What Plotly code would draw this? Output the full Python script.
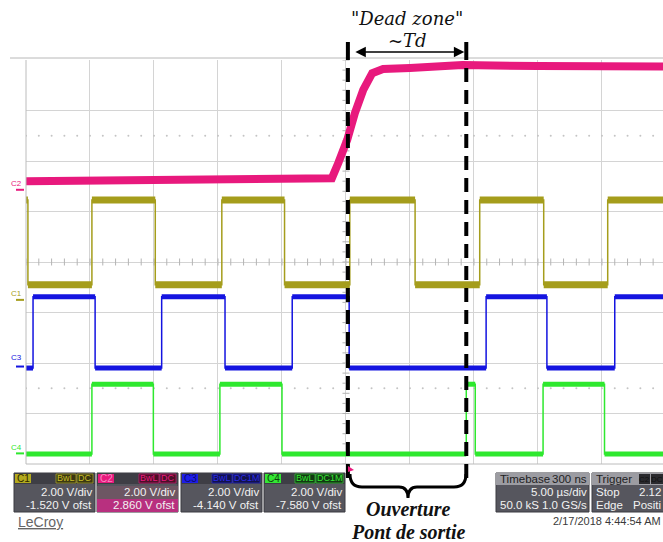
import plotly.graph_objects as go
import numpy as np

# ---------------- data (time in µs, amplitude in screen divisions) ----------------
time_range = [-25.0, 24.77]
amp_range = [-4.0, 4.0]

c1_edges = [-24.85, -19.85, -14.9, -9.7, -4.8, 0.3, 5.4, 10.45, 15.45, 20.45]
c1_start_high = True
c1_low, c1_high = -0.45, 1.23

c2_time = [-25.0, -10.0, -1.1, -0.6, 0.1, 0.7, 1.35, 2.05, 2.9, 5.0, 9.1, 15.0, 24.77]
c2_level = [1.60, 1.62, 1.66, 1.96, 2.42, 2.95, 3.41, 3.74, 3.82, 3.84, 3.90, 3.88, 3.87]

c3_edges = [-24.45, -19.6, -14.4, -9.45, -4.2, 0.25, 10.95, 15.7, 21.0]
c3_start_high = False
c3_low, c3_high = -2.10, -0.69

c4_edges = [-19.85, -15.05, -9.85, -5.0, 9.4, 10.1, 15.4, 20.2]
c4_start_high = False
c4_low, c4_high = -3.80, -2.42

dead_zone = [0.15, 9.4]

channel_names = ["C1", "C2", "C3", "C4"]
channel_colors = ["#a59d1c", "#e8197d", "#1414e0", "#2ee82e"]
channel_marker_levels = [-0.75, 1.43, -2.07, -3.79]
volts_per_div = ["2.00 V/div", "2.00 V/div", "2.00 V/div", "2.00 V/div"]
offsets = ["-1.520 V ofst", "2.860 V ofst", "-4.140 V ofst", "-7.580 V ofst"]
coupling = ["DC", "DC", "DC1M", "DC1M"]

# ---------------- geometry helpers ----------------
W, H = 663, 542
L, T, B = 26, 60, 464          # plot area (pixels)
R = W


def px_x(p):
    return (p - L) / (R - L)


def px_y(p):
    return (B - p) / (B - T)


def step_wave(edges, start_high, low, high):
    xs, ys = [], []
    state = start_high
    bounds = [time_range[0]] + list(edges) + [time_range[1]]
    px, py = [], []
    for i in range(len(bounds) - 1):
        lvl = high if state else low
        xs += [bounds[i], bounds[i + 1]]
        ys += [lvl, lvl]
        px += [bounds[i], bounds[i + 1], None]
        py += [lvl, lvl, None]
        state = not state
    return xs, ys, px, py


fig = go.Figure()

# decorative centre-axis ticks and dotted rows
tx = np.arange(-25, 25, 1.0)
fig.add_trace(go.Scatter(x=tx, y=np.zeros_like(tx), mode="markers",
                         marker=dict(symbol="line-ns-open", size=5, color="#b4b4b4", line=dict(width=1)),
                         hoverinfo="skip", showlegend=False))
ty = np.arange(-4, 4.01, 0.2)
fig.add_trace(go.Scatter(x=np.zeros_like(ty), y=ty, mode="markers",
                         marker=dict(symbol="line-ew-open", size=5, color="#b4b4b4", line=dict(width=1)),
                         hoverinfo="skip", showlegend=False))
for yy in (2.5, -2.5):
    fig.add_trace(go.Scatter(x=tx, y=np.full_like(tx, yy), mode="markers",
                             marker=dict(symbol="circle", size=2, color="#c4c4c4"),
                             hoverinfo="skip", showlegend=False))

# channel traces
waves = [
    step_wave(c1_edges, c1_start_high, c1_low, c1_high),
    None,
    step_wave(c3_edges, c3_start_high, c3_low, c3_high),
    step_wave(c4_edges, c4_start_high, c4_low, c4_high),
]
band = [7, 8, 5, 5]
for i, wv in enumerate(waves):
    col = channel_colors[i]
    if wv is None:
        fig.add_trace(go.Scatter(x=c2_time, y=c2_level, mode="lines", name="C2",
                                 line=dict(color=col, width=band[i]), showlegend=False))
        continue
    xs, ys, px, py = wv
    fig.add_trace(go.Scatter(x=xs, y=ys, mode="lines", name=channel_names[i],
                             line=dict(color=col, width=1.5), showlegend=False))
    fig.add_trace(go.Scatter(x=px, y=py, mode="lines", name=channel_names[i],
                             line=dict(color=col, width=band[i]), showlegend=False, hoverinfo="skip"))

shapes = []
ann = []

# grid border and top line
shapes.append(dict(type="line", xref="paper", yref="paper", x0=px_x(10), x1=1, y0=px_y(58), y1=px_y(58),
                   line=dict(color="#b8b8b8", width=1)))
shapes.append(dict(type="line", xref="paper", yref="paper", x0=0, x1=0, y0=0, y1=1,
                   line=dict(color="#bcbcbc", width=1)))
shapes.append(dict(type="line", xref="paper", yref="paper", x0=0, x1=1, y0=0, y1=0,
                   line=dict(color="#bcbcbc", width=1)))

# dead zone markers
for t in dead_zone:
    shapes.append(dict(type="line", xref="x", yref="paper", x0=t, x1=t, y0=px_y(478), y1=px_y(60),
                       line=dict(color="black", width=4, dash="14px,8px"), layer="above"))
    shapes.append(dict(type="line", xref="x", yref="paper", x0=t, x1=t, y0=px_y(60), y1=px_y(42),
                       line=dict(color="black", width=4), layer="above"))
arrow_len = (dead_zone[1] - dead_zone[0]) * (R - L) / (time_range[1] - time_range[0])
ann.append(dict(x=dead_zone[1], y=px_y(52), xref="x", yref="paper", ax=-(arrow_len - 4), ay=0,
                axref="pixel", ayref="pixel", text="", showarrow=True, arrowhead=2, arrowsize=1.3,
                arrowwidth=1.6, arrowcolor="black", arrowside="end+start", standoff=2, startstandoff=2))

xmid_px = L + ((dead_zone[0] + dead_zone[1]) / 2 - time_range[0]) * (R - L) / (time_range[1] - time_range[0])

ann.append(dict(x=px_x(xmid_px), y=px_y(19), xref="paper", yref="paper", text="\"Dead zone\"",
                showarrow=False, xanchor="center", yanchor="middle",
                font=dict(family="DejaVu Serif", size=18, color="#111", style="italic")))
ann.append(dict(x=px_x(xmid_px), y=px_y(41), xref="paper", yref="paper", text="~<i>Td</i>",
                showarrow=False, xanchor="center", yanchor="middle",
                font=dict(family="DejaVu Serif", size=18, color="#111", style="italic")))

# brace
x0b = 350
x1b = 466
xm = (x0b + x1b) / 2
pts = f"M {px_x(x0b)},{px_y(474)} Q {px_x(x0b)},{px_y(487)} {px_x(x0b+12)},{px_y(487)} " \
      f"L {px_x(xm-9)},{px_y(487)} Q {px_x(xm)},{px_y(487)} {px_x(xm)},{px_y(498)} " \
      f"Q {px_x(xm)},{px_y(487)} {px_x(xm+9)},{px_y(487)} L {px_x(x1b-12)},{px_y(487)} " \
      f"Q {px_x(x1b)},{px_y(487)} {px_x(x1b)},{px_y(474)}"
shapes.append(dict(type="path", xref="paper", yref="paper", path=pts,
                   line=dict(color="black", width=3), layer="above"))
ann.append(dict(x=px_x(xm), y=px_y(509), xref="paper", yref="paper", text="Ouverture",
                showarrow=False, xanchor="center", yanchor="middle",
                font=dict(family="Liberation Serif", size=20, color="#111", style="italic", weight="bold")))
ann.append(dict(x=px_x(xm), y=px_y(532), xref="paper", yref="paper", text="Pont de sortie",
                showarrow=False, xanchor="center", yanchor="middle",
                font=dict(family="Liberation Serif", size=20, color="#111", style="italic", weight="bold")))

# trigger marker
tri = f"M {px_x(348)},{px_y(466)} L {px_x(354)},{px_y(470)} L {px_x(348)},{px_y(472)} Z"
shapes.append(dict(type="path", xref="paper", yref="paper", path=tri, fillcolor="#e8197d",
                   line=dict(width=0), layer="above"))


def rect(x0, y0, x1, y1, fill, line=None, lw=0):
    shapes.append(dict(type="rect", xref="paper", yref="paper", x0=px_x(x0), x1=px_x(x1),
                       y0=px_y(y1), y1=px_y(y0), fillcolor=fill,
                       line=dict(width=lw, color=line or fill), layer="above"))


def text(x, y, s, color, size, xanchor="center", family="Liberation Sans", **kw):
    ann.append(dict(xref="paper", yref="paper", x=px_x(x), y=px_y(y), text=s, showarrow=False,
                    xanchor=xanchor, yanchor="middle", borderpad=0,
                    font=dict(family=family, size=size, color=color, **kw)))


# left channel labels
label_y = [293, 183, 357, 447]
for i in range(4):
    text(23, label_y[i], channel_names[i], channel_colors[i], 8, xanchor="right")
    yl = B - (channel_marker_levels[i] + 4) * (B - T) / 8
    shapes.append(dict(type="line", xref="paper", yref="paper", x0=px_x(16), x1=px_x(24),
                       y0=px_y(yl), y1=px_y(yl), line=dict(color=channel_colors[i], width=2)))

# channel info panels
panel_x = [(14, 95), (97, 178), (181, 262), (264, 345)]
badge_fill = ["#b3aa1e", "#e8197d", "#1e1ee8", "#33e633"]
badge_text = ["#2c2800", "#f58ac0", "#0a0a70", "#0c400c"]
box_fill = ["#3a3812", "#4a1028", "#12124a", "#123812"]
box_text = ["#c8bd26", "#e8197d", "#2a2ae8", "#35e635"]
for i, (x0, x1) in enumerate(panel_x):
    rect(x0, 473, x1, 512, "#56565e", "#3a3a40", 1)
    rect(x0, 473, x1, 484, "#3e3e45")
    if i == 1:
        rect(x0, 499, x1, 512, "#b8307f")
        rect(x0, 486, x1, 499, "#6d5663")
    rect(x0 + 1, 474, x0 + 17, 483, badge_fill[i])
    text(x0 + 2, 478.5, channel_names[i], badge_text[i], 10, xanchor="left")
    wide = coupling[i] == "DC1M"
    cw = 27 if wide else 16
    bx1 = x1 - 2
    rect(bx1 - cw, 474, bx1, 483, box_fill[i], box_text[i], 0.6)
    text(bx1 - cw / 2, 478.5, coupling[i], box_text[i], 9)
    rect(bx1 - cw - 21, 474, bx1 - cw - 1, 483, box_fill[i], box_text[i], 0.6)
    text(bx1 - cw - 11, 478.5, "BwL", box_text[i], 9)
    text(x1 - 2, 492, volts_per_div[i], "#f2f2f2", 11.5, xanchor="right")
    text(x1 - 2, 505, offsets[i], "#f2f2f2", 11.5, xanchor="right")

# timebase panel
rect(496, 473, 589, 512, "#56565e", "#3a3a40", 1)
rect(496, 473, 589, 485, "#9c9ca2")
text(499, 479, "Timebase", "#222", 11.5, xanchor="left")
text(588, 479, "300 ns", "#222", 11.5, xanchor="right")
text(588, 492, "5.00 µs/div", "#f2f2f2", 11.5, xanchor="right")
text(499, 505, "50.0 kS", "#f2f2f2", 11.5, xanchor="left")
text(588, 505, "1.0 GS/s", "#f2f2f2", 11.5, xanchor="right")

# trigger panel (extends past the right edge of the screenshot)
rect(592, 473, 690, 512, "#56565e", "#3a3a40", 1)
rect(592, 473, 690, 485, "#9c9ca2")
text(595, 479, "Trigger", "#222", 11.5, xanchor="left")
rect(639, 474, 650, 484, "#2a2a2e")
text(644.5, 479, "C2", "#111", 8)
rect(651, 474, 668, 484, "#2a2a2e")
text(657, 479, "DC", "#111", 8)
text(595, 492, "Stop", "#f2f2f2", 11.5, xanchor="left")
text(662, 492, "2.12", "#f2f2f2", 11.5, xanchor="right")
text(595, 505, "Edge", "#f2f2f2", 11.5, xanchor="left")
text(662, 505, "Positi", "#f2f2f2", 11.5, xanchor="right")

text(662, 521, "2/17/2018 4:44:54 AM", "#3a3a3a", 11, xanchor="right")
text(17, 522, "<u>LeCroy</u>", "#666", 14, xanchor="left")

fig.update_layout(
    width=W, height=H,
    margin=dict(l=L, r=0, t=T, b=H - B, pad=0),
    paper_bgcolor="white", plot_bgcolor="white",
    xaxis=dict(range=time_range, showticklabels=False, showgrid=True, gridcolor="#d4d4d4",
               gridwidth=1, tick0=-25, dtick=5, zeroline=False, showline=False, ticks="", fixedrange=True),
    yaxis=dict(range=amp_range, showticklabels=False, showgrid=True, gridcolor="#d4d4d4",
               gridwidth=1, tick0=-4, dtick=1, zeroline=False, showline=False, ticks="", fixedrange=True),
    shapes=shapes, annotations=ann, showlegend=False,
)

fig.write_html("out.html", config={"displayModeBar": False},
               post_script="document.body.style.margin='0';document.body.style.overflow='hidden';")
